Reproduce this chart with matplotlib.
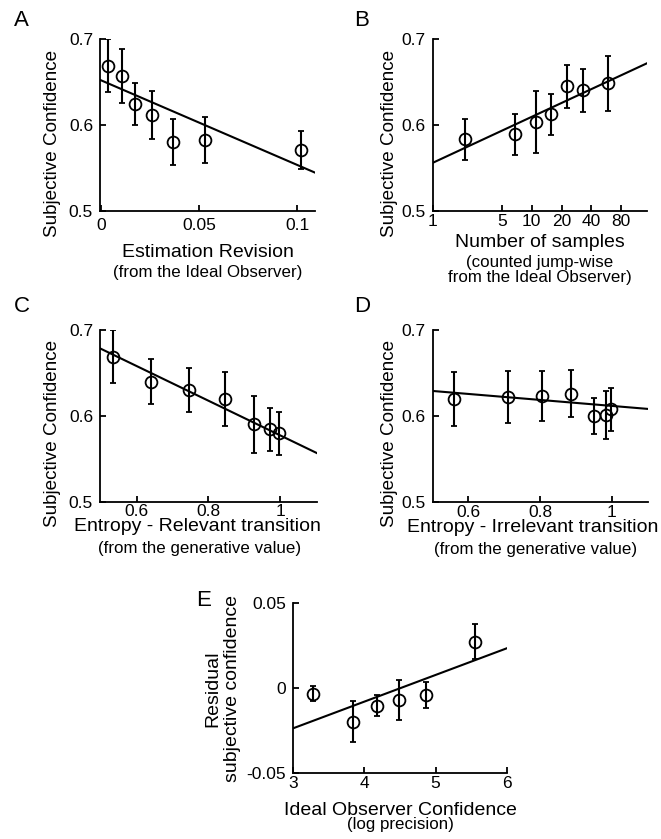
import numpy as np
import matplotlib
matplotlib.use('Agg')
import matplotlib.pyplot as plt

plt.rcParams['font.family'] = ['Liberation Sans', 'DejaVu Sans']

# panel A: estimation revision
a_x = [0.0034, 0.0105, 0.0173, 0.0261, 0.0368, 0.0529, 0.102]
a_y = [0.669, 0.657, 0.6245, 0.612, 0.580, 0.5825, 0.571]
a_err = [0.031, 0.031, 0.024, 0.028, 0.027, 0.027, 0.022]
a_fit = (0.652, -0.985)

# panel B: number of samples (log axis)
b_x = [2.12, 6.84, 10.97, 15.56, 22.6, 33.3, 58.6]
b_y = [0.5835, 0.5893, 0.6037, 0.6126, 0.6452, 0.6406, 0.6483]
b_err = [0.024, 0.024, 0.036, 0.024, 0.025, 0.025, 0.032]
b_fit = (0.556, 0.0535)  # per decade

# panel C: entropy, relevant transition
c_x = [0.535, 0.639, 0.747, 0.845, 0.926, 0.972, 0.998]
c_y = [0.669, 0.640, 0.630, 0.6196, 0.590, 0.5843, 0.5796]
c_err = [0.031, 0.026, 0.026, 0.031, 0.033, 0.025, 0.025]
c_fit = (0.779, -0.2017)

# panel D: entropy, irrelevant transition
d_x = [0.560, 0.710, 0.805, 0.886, 0.951, 0.985, 0.999]
d_y = [0.620, 0.6226, 0.623, 0.626, 0.6006, 0.6014, 0.6079]
d_err = [0.031, 0.030, 0.029, 0.027, 0.021, 0.028, 0.025]
d_fit = (0.6466, -0.0347)

# panel E: residual confidence vs ideal observer confidence
e_x = [3.28, 3.845, 4.183, 4.479, 4.869, 5.549]
e_y = [-0.0033, -0.0196, -0.0102, -0.0069, -0.0037, 0.0273]
e_err = [0.0044, 0.012, 0.0062, 0.012, 0.0077, 0.0103]
e_fit = (-0.0705, 0.01567)

W, H = 661, 839
fig = plt.figure(figsize=(W / 100, H / 100), dpi=100)

LAB = 14      # main axis label size
SUB = 12.2    # the bracketed second line
YLAB = 13.6


def make_ax(l, r, t, b):
    return fig.add_axes([l / W, (H - b) / H, (r - l) / W, (b - t) / H])


def style(ax):
    for s in ['top', 'right']:
        ax.spines[s].set_visible(False)
    for s in ['left', 'bottom']:
        ax.spines[s].set_linewidth(1.3)
    ax.tick_params(direction='in', length=4, width=1.3, labelsize=12.5, pad=5)


def draw(ax, x, y, err, fit, xlim, logx=False):
    ax.errorbar(x, y, yerr=err, fmt='o', color='black', mfc='none',
                ms=8.5, mew=1.3, elinewidth=1.5, capsize=2.5, capthick=1.5)
    xs = np.array(xlim)
    if logx:
        ax.plot(xs, fit[0] + fit[1] * np.log10(xs), color='black', lw=1.5)
    else:
        ax.plot(xs, fit[0] + fit[1] * xs, color='black', lw=1.5)
    ax.set_xlim(xlim)


def letter(x, y, s):
    fig.text(x / W, (H - y) / H, s, fontsize=16, ha='center', va='center')


def xlab(ax, x, lines):
    for (yy, s, fs) in lines:
        ax.text(x, yy, s, fontsize=fs, ha='center', va='center',
                transform=ax.transAxes)


conf_ticks = [0.5, 0.6, 0.7]
conf_labels = ['0.5', '0.6', '0.7']

# A
ax = make_ax(100, 315, 39, 211)
draw(ax, a_x, a_y, a_err, a_fit, (-0.0005, 0.109))
ax.set_ylim(0.5, 0.7)
ax.set_yticks(conf_ticks, conf_labels)
ax.set_xticks([0, 0.05, 0.1], ['0', '0.05', '0.1'])
style(ax)
ax.text(-0.22, 0.39, 'Subjective Confidence', rotation=90, fontsize=YLAB,
        ha='center', va='center', transform=ax.transAxes)
xlab(ax, 0.5, [(-0.244, 'Estimation Revision', LAB),
               (-0.355, '(from the Ideal Observer)', SUB)])
letter(21, 20, 'A')

# B
ax = make_ax(432.7, 646.7, 39, 211)
ax.set_xscale('log')
draw(ax, b_x, b_y, b_err, b_fit, (1, 145), logx=True)
ax.set_ylim(0.5, 0.7)
ax.set_yticks(conf_ticks, conf_labels)
ax.set_xticks([1, 5, 10, 20, 40, 80], ['1', '5', '10', '20', '40', '80'])
ax.minorticks_off()
style(ax)
ax.tick_params(axis='x', pad=2)
ax.text(-0.2, 0.39, 'Subjective Confidence', rotation=90, fontsize=YLAB,
        ha='center', va='center', transform=ax.transAxes)
xlab(ax, 0.5, [(-0.186, 'Number of samples', LAB),
               (-0.297, '(counted jump-wise', SUB),
               (-0.384, 'from the Ideal Observer)', SUB)])
letter(362, 20, 'B')

# C
ax = make_ax(100, 316.7, 330, 501.7)
draw(ax, c_x, c_y, c_err, c_fit, (0.4977, 1.102))
ax.set_ylim(0.5, 0.7)
ax.set_yticks(conf_ticks, conf_labels)
ax.set_xticks([0.6, 0.8, 1.0], ['0.6', '0.8', '1'])
style(ax)
ax.tick_params(axis='x', pad=2)
ax.text(-0.22, 0.40, 'Subjective Confidence', rotation=90, fontsize=YLAB,
        ha='center', va='center', transform=ax.transAxes)
xlab(ax, 0.448, [(-0.147, 'Entropy - Relevant transition', LAB)])
xlab(ax, 0.46, [(-0.275, '(from the generative value)', SUB)])
letter(22, 307, 'C')

# D
ax = make_ax(432.7, 648.3, 330, 502.3)
draw(ax, d_x, d_y, d_err, d_fit, (0.5005, 1.102))
ax.set_ylim(0.5, 0.7)
ax.set_yticks(conf_ticks, conf_labels)
ax.set_xticks([0.6, 0.8, 1.0], ['0.6', '0.8', '1'])
style(ax)
ax.tick_params(axis='x', pad=2)
ax.text(-0.2, 0.40, 'Subjective Confidence', rotation=90, fontsize=YLAB,
        ha='center', va='center', transform=ax.transAxes)
xlab(ax, 0.463, [(-0.145, 'Entropy - Irrelevant transition', LAB)])
xlab(ax, 0.475, [(-0.272, '(from the generative value)', SUB)])
letter(362, 307, 'D')

# E
ax = make_ax(293.3, 506.7, 603.3, 773.3)
draw(ax, e_x, e_y, e_err, e_fit, (3, 6))
ax.set_ylim(-0.05, 0.05)
ax.set_yticks([-0.05, 0, 0.05], ['-0.05', '0', '0.05'])
ax.set_xticks([3, 4, 5, 6], ['3', '4', '5', '6'])
style(ax)
ax.tick_params(axis='x', pad=2)
ax.text(-0.376, 0.5, 'Residual', rotation=90, fontsize=LAB,
        ha='center', va='center', transform=ax.transAxes)
ax.text(-0.283, 0.5, 'subjective confidence', rotation=90, fontsize=LAB,
        ha='center', va='center', transform=ax.transAxes)
xlab(ax, 0.5, [(-0.216, 'Ideal Observer Confidence', LAB),
               (-0.304, '(log precision)', SUB)])
letter(204, 600, 'E')

fig.savefig('out.png', dpi=100)
